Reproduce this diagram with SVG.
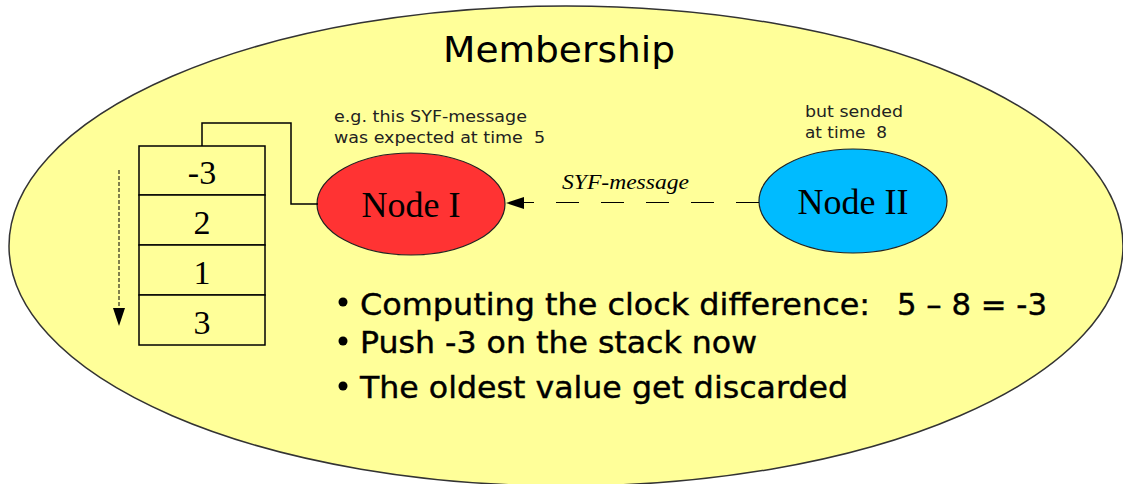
<svg xmlns="http://www.w3.org/2000/svg" width="1123" height="484" viewBox="0 0 1123 484">
<style>
.sans{font-family:"DejaVu Sans","Liberation Sans",sans-serif;fill:#000}
.serif{font-family:"Liberation Serif","DejaVu Serif",serif;fill:#000}
.note{font-family:"DejaVu Sans","Liberation Sans",sans-serif;font-size:15px;fill:#222}
.bul{font-family:"DejaVu Sans","Liberation Sans",sans-serif;font-size:30px;fill:#000;stroke:#000;stroke-width:0.4}
.cell{fill:#ffff99;stroke:#000;stroke-width:1.5}
.line{fill:none;stroke:#000;stroke-width:1.5}
.head{fill:#000}
</style>
<g id="membership">
<ellipse cx="566" cy="246" rx="557" ry="240" fill="#ffff99" stroke="#333" stroke-width="1.5"/>
<text class="sans" x="443" y="62" font-size="36" textLength="232" lengthAdjust="spacingAndGlyphs">Membership</text>
</g>
<g id="stack">
<rect class="cell" x="139" y="146" width="126" height="49"/>
<rect class="cell" x="139" y="195" width="126" height="50"/>
<rect class="cell" x="139" y="245" width="126" height="50"/>
<rect class="cell" x="139" y="295" width="126" height="50"/>
<text class="serif" x="202" y="184" font-size="34" text-anchor="middle">-3</text>
<text class="serif" x="202" y="234" font-size="34" text-anchor="middle">2</text>
<text class="serif" x="202" y="284" font-size="34" text-anchor="middle">1</text>
<text class="serif" x="202" y="334" font-size="34" text-anchor="middle">3</text>
</g>
<g id="node1">
<ellipse cx="411" cy="204" rx="94" ry="51" fill="#ff3333" stroke="#222" stroke-width="1.2"/>
<text class="serif" x="411" y="217" font-size="36" text-anchor="middle">Node I</text>
<text class="note" x="334" y="122" textLength="193" lengthAdjust="spacingAndGlyphs">e.g. this SYF-message</text>
<text class="note" x="334" y="143" xml:space="preserve" textLength="211" lengthAdjust="spacingAndGlyphs">was expected at time  5</text>
</g>
<g id="node2">
<ellipse cx="853" cy="201" rx="94" ry="52" fill="#00bbff" stroke="#222" stroke-width="1.2"/>
<text class="serif" x="853" y="214" font-size="36" text-anchor="middle">Node II</text>
<text class="note" x="805" y="117" textLength="98" lengthAdjust="spacingAndGlyphs">but sended</text>
<text class="note" x="805" y="138" xml:space="preserve" textLength="82" lengthAdjust="spacingAndGlyphs">at time  8</text>
</g>
<g id="connectors">
<path class="line" d="M202,146 V123 H291 V204 H318"/>
<line x1="759" y1="202.5" x2="522" y2="202.5" stroke="#000" stroke-width="1.2" stroke-dasharray="23,22"/>
<polygon class="head" points="506,203 524,197 524,209"/>
<text class="serif" x="562" y="189" font-size="22" font-style="italic" fill="#333" textLength="127" lengthAdjust="spacingAndGlyphs">SYF-message</text>
<line x1="119" y1="170" x2="119" y2="310" stroke="#000" stroke-width="1" stroke-dasharray="4,2"/>
<polygon class="head" points="119,326 113,308 125,308"/>
</g>
<g id="bullets">
<circle cx="343" cy="302" r="4.5" fill="#000"/>
<circle cx="343" cy="341" r="4.5" fill="#000"/>
<circle cx="343" cy="386" r="4.5" fill="#000"/>
<text class="bul" x="360" y="315" textLength="510" lengthAdjust="spacingAndGlyphs">Computing the clock difference:</text>
<text class="bul" x="897" y="315" textLength="150" lengthAdjust="spacingAndGlyphs">5 – 8 = -3</text>
<text class="bul" x="360" y="353" textLength="397" lengthAdjust="spacingAndGlyphs">Push -3 on the stack now</text>
<text class="bul" x="360" y="398" textLength="488" lengthAdjust="spacingAndGlyphs">The oldest value get discarded</text>
</g>
</svg>
